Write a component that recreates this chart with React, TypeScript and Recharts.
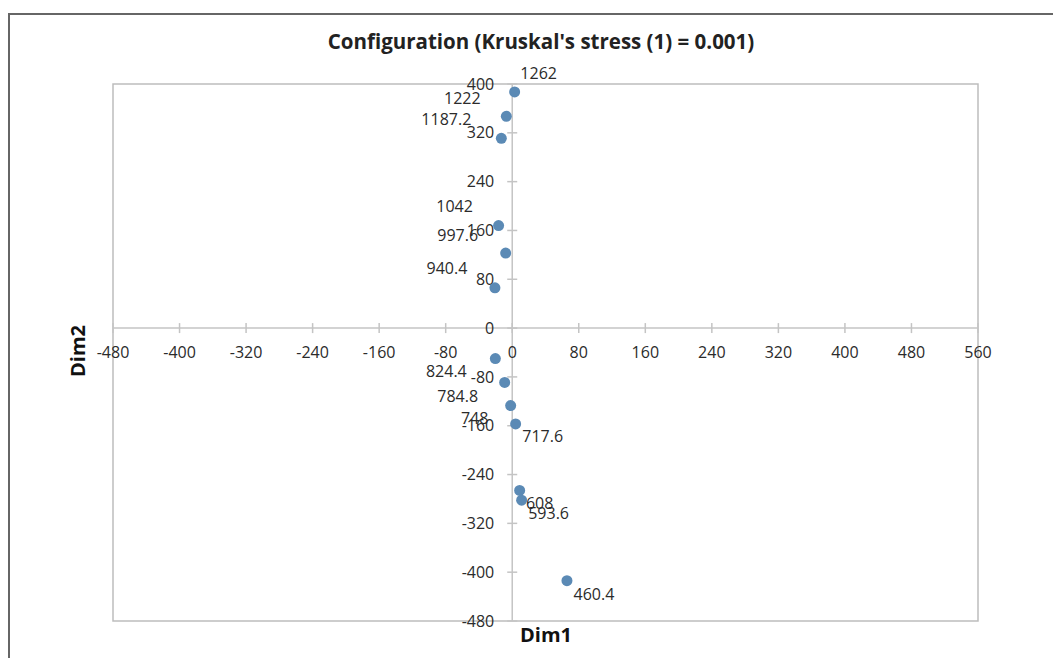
import React from "react";
import {
  ScatterChart,
  Scatter,
  XAxis,
  YAxis,
  ReferenceArea,
  ReferenceLine,
  ReferenceDot,
} from "recharts";

// MDS configuration
const labels = ["1262", "1222", "1187.2", "1042", "997.6", "940.4", "824.4", "784.8", "748", "717.6", "608", "593.6", "460.4"];
const dim1 = [2.9, -7.1, -13.1, -16.4, -7.9, -20.8, -20.3, -9.1, -1.9, 4.1, 8.9, 11.3, 65.8];
const dim2 = [387, 347, 311, 168, 123, 66, -50, -89, -127, -157, -266, -282, -414];

const xTicks = [-480, -400, -320, -240, -160, -80, 0, 80, 160, 240, 320, 400, 480, 560];
const yTicks = [-480, -400, -320, -240, -160, -80, 0, 80, 160, 240, 320, 400];

// where each data label sits relative to its marker (excel-ish placement)
const labelOffsets = [
  [24, -19], [-44, -18], [-55, -19], [-44, -19], [-48, -18], [-48, -19],
  [-49, 13], [-47, 14], [-36, 13], [27, 13], [20, 13], [27, 13], [27, 14],
];

const points = labels.map((label, i) => ({ x: dim1[i], y: dim2[i], label, i }));

const FONT = "'Open Sans', sans-serif";
const TEXT = "#2b2b2b";
const AXIS = "#c4c4c4";
const FS = 16;

function PointShape(props: any) {
  const { cx, cy, payload } = props;
  const [dx, dy] = labelOffsets[payload.i];
  return (
    <g>
      <circle cx={cx} cy={cy} r={5.5} fill="#5b8ab5" />
      <text
        x={cx + dx}
        y={cy + dy}
        dy="0.35em"
        textAnchor="middle"
        fontSize={FS}
        fontFamily={FONT}
        fill={TEXT}
      >
        {payload.label}
      </text>
    </g>
  );
}

export default function App() {
  return (
    <div
      style={{
        position: "absolute",
        left: 0,
        top: 0,
        width: 1053,
        height: 658,
        overflow: "hidden",
        background: "#fff",
        fontFamily: FONT,
      }}
    >
      <div
        style={{
          position: "absolute",
          left: 8,
          top: 13,
          width: 1100,
          height: 700,
          border: "2px solid #666",
        }}
      />
      <ScatterChart
        width={1053}
        height={658}
        margin={{ top: 84, right: 75, bottom: 37, left: 113 }}
        style={{ position: "absolute", left: 0, top: 0 }}
      >
        <XAxis type="number" dataKey="x" domain={[-480, 560]} ticks={xTicks} hide />
        <YAxis type="number" dataKey="y" domain={[-480, 400]} ticks={yTicks} hide />
        <ReferenceArea
          x1={-480}
          x2={560}
          y1={-480}
          y2={400}
          fill="none"
          fillOpacity={0}
          stroke="#bdbdbd"
          strokeWidth={1.5}
        />
        <ReferenceLine x={0} stroke={AXIS} strokeWidth={1.5} />
        <ReferenceLine y={0} stroke={AXIS} strokeWidth={1.5} />
        {xTicks.map((t) => (
          <ReferenceDot
            key={"x" + t}
            x={t}
            y={0}
            r={0}
            shape={(p: any) => (
              <g>
                <line x1={p.cx} y1={p.cy - 5} x2={p.cx} y2={p.cy + 5} stroke={AXIS} strokeWidth={1.5} />
                <text
                  x={p.cx}
                  y={p.cy + 24}
                  dy="0.35em"
                  textAnchor="middle"
                  fontSize={FS}
                  fontFamily={FONT}
                  fill={TEXT}
                >
                  {t}
                </text>
              </g>
            )}
          />
        ))}
        {yTicks.map((t) => (
          <ReferenceDot
            key={"y" + t}
            x={0}
            y={t}
            r={0}
            shape={(p: any) => (
              <g>
                <line x1={p.cx - 5} y1={p.cy} x2={p.cx + 5} y2={p.cy} stroke={AXIS} strokeWidth={1.5} />
                <text
                  x={p.cx - 18}
                  y={p.cy}
                  dy="0.35em"
                  textAnchor="end"
                  fontSize={FS}
                  fontFamily={FONT}
                  fill={TEXT}
                >
                  {t}
                </text>
              </g>
            )}
          />
        ))}
        <Scatter data={points} shape={PointShape} isAnimationActive={false} />
      </ScatterChart>
      <div
        style={{
          position: "absolute",
          left: 0,
          width: 1082,
          top: 28,
          textAlign: "center",
          fontWeight: 700,
          fontSize: 20.5,
          color: "#222",
          lineHeight: "26px",
        }}
      >
        Configuration (Kruskal's stress (1) = 0.001)
      </div>
      <div
        style={{
          position: "absolute",
          left: 446,
          width: 200,
          top: 622,
          textAlign: "center",
          fontWeight: 700,
          fontSize: 20,
          color: "#111",
          lineHeight: "26px",
        }}
      >
        Dim1
      </div>
      <div
        style={{
          position: "absolute",
          left: 78,
          top: 351,
          transform: "translate(-50%, -50%) rotate(-90deg)",
          fontWeight: 700,
          fontSize: 20,
          color: "#111",
          lineHeight: "24px",
          whiteSpace: "nowrap",
        }}
      >
        Dim2
      </div>
    </div>
  );
}
